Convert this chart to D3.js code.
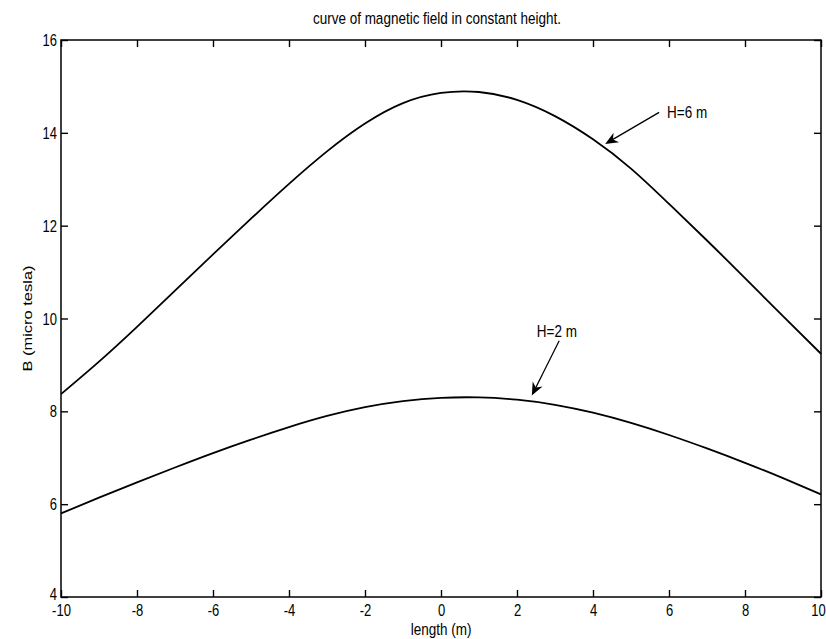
<!DOCTYPE html>
<html>
<head>
<meta charset="utf-8">
<script src="https://cdn.jsdelivr.net/npm/d3@7"></script>
<style>
  html, body { margin: 0; padding: 0; background: #fff; }
  text { font-family: "Liberation Sans", Arial, sans-serif; fill: #000; }
</style>
</head>
<body>
<svg id="chart" width="826" height="639"></svg>
<script>
// ---- data ----
const lengthX = [-10,-9,-8,-7,-6,-5,-4,-3,-2,-1,0,1,2,3,4,5,6,7,8,9,10];
const bH6 = [8.37,9.07,9.82,10.60,11.38,12.15,12.90,13.60,14.20,14.64,14.86,14.88,14.71,14.36,13.86,13.23,12.47,11.68,10.87,10.05,9.24];
const bH2 = [5.80,6.14,6.47,6.79,7.10,7.39,7.66,7.90,8.09,8.22,8.29,8.30,8.25,8.14,7.97,7.75,7.49,7.20,6.89,6.56,6.21];
const xTicks = [-10,-8,-6,-4,-2,0,2,4,6,8,10];
const yTicks = [4,6,8,10,12,14,16];
const seriesNames = ["H=6 m", "H=2 m"];
// annotations in data units: [textX, textY, tailX, tailY, tipX, tipY]
const annot6 = [5.95, 14.31, 5.74, 14.44, 4.32, 13.76];
const annot2 = [3.05, 9.60, 3.11, 9.52, 2.39, 8.34];
const titleText = "curve of magnetic field in constant height.";
const xLabel = "length (m)";
const yLabel = "B (micro tesla)";

// ---- layout ----
const L = 61, R = 821, T = 40, B = 597;
const SY = 1.22; // vertical text stretch seen in reference
const svg = d3.select("#chart");
const x = d3.scaleLinear().domain([-10, 10]).range([L, R]);
const y = d3.scaleLinear().domain([4, 16]).range([B, T]);
const fmt = d => String(d);

function stretchText(g, tx, ty, str, size, anchor, rot) {
  return g.append("text")
    .attr("transform", `translate(${tx},${ty}) scale(1,${SY})` + (rot ? ` rotate(${rot})` : ""))
    .attr("text-anchor", anchor)
    .style("font-size", size + "px")
    .text(str);
}

// axes
const gx = svg.append("g").attr("transform", `translate(0,${B})`)
  .call(d3.axisBottom(x).tickValues(xTicks).tickSizeInner(-7).tickSizeOuter(0).tickFormat(fmt));
gx.selectAll("text").attr("y", 0).attr("dy", null)
  .attr("transform", d => `translate(${d === 10 ? -3 : 0},19) scale(1,${SY})`).style("font-size", "13px");
const gy = svg.append("g").attr("transform", `translate(${L},0)`)
  .call(d3.axisLeft(y).tickValues(yTicks).tickSizeInner(-7).tickSizeOuter(0).tickFormat(fmt));
gy.selectAll("text").attr("x", 0).attr("dy", null)
  .attr("transform", d => `translate(-4,${d === 4 ? 2 : 5.5}) scale(1,${SY})`).style("font-size", "13px");
svg.append("g").attr("transform", `translate(0,${T})`)
  .call(d3.axisTop(x).tickValues(xTicks).tickSizeInner(-7).tickSizeOuter(0).tickFormat(""));
svg.append("g").attr("transform", `translate(${R},0)`)
  .call(d3.axisRight(y).tickValues(yTicks).tickSizeInner(-7).tickSizeOuter(0).tickFormat(""));
svg.selectAll(".domain").remove();
svg.selectAll(".tick line").attr("stroke", "#000").attr("stroke-width", 1.4);

svg.append("rect").attr("x", L).attr("y", T).attr("width", R - L).attr("height", B - T)
  .attr("fill", "none").attr("stroke", "#000").attr("stroke-width", 1.5);

// curves
const line = d3.line().x((d, i) => x(lengthX[i])).y(d => y(d)).curve(d3.curveNatural);
[bH6, bH2].forEach(s => {
  svg.append("path").datum(s).attr("d", line)
    .attr("fill", "none").attr("stroke", "#000").attr("stroke-width", 1.8);
});

// annotations
function arrow(a, label, anchor) {
  const [tx, ty, ax0, ay0, ax1, ay1] = a;
  const x0 = x(ax0), y0 = y(ay0), x1 = x(ax1), y1 = y(ay1);
  const dx = x1 - x0, dy = y1 - y0, len = Math.hypot(dx, dy);
  const ux = dx / len, uy = dy / len, px = -uy, py = ux;
  const hl = 13, hw = 5.5, notch = 4;
  svg.append("line").attr("x1", x0).attr("y1", y0)
    .attr("x2", x1 - ux * (hl - notch)).attr("y2", y1 - uy * (hl - notch))
    .attr("stroke", "#000").attr("stroke-width", 1.3);
  const pts = [
    [x1, y1],
    [x1 - ux * hl + px * hw, y1 - uy * hl + py * hw],
    [x1 - ux * (hl - notch), y1 - uy * (hl - notch)],
    [x1 - ux * hl - px * hw, y1 - uy * hl - py * hw]
  ];
  svg.append("path").attr("d", "M" + pts.map(p => p.join(",")).join("L") + "Z").attr("fill", "#000");
  stretchText(svg, x(tx), y(ty), label, 13.5, anchor);
}
arrow(annot6, seriesNames[0], "start");
arrow(annot2, seriesNames[1], "middle");

// titles
stretchText(svg, (L + R) / 2 - 4, 24, titleText, 13.5, "middle");
stretchText(svg, (L + R) / 2, 635, xLabel, 13.5, "middle");
stretchText(svg, 32, (T + B) / 2, yLabel, 13.5, "middle", -90);
</script>
</body>
</html>
